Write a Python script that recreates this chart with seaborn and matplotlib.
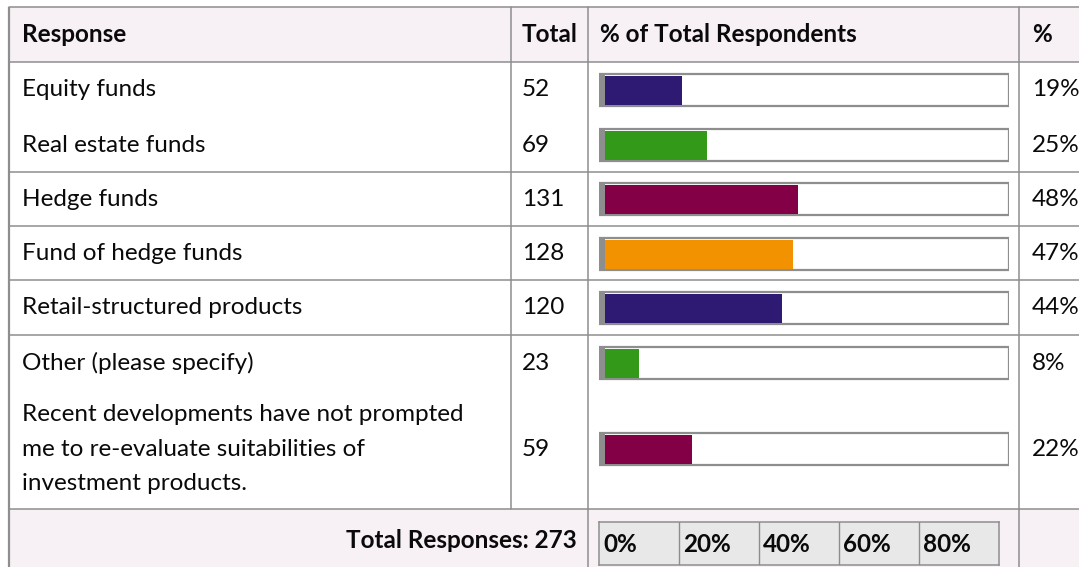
import matplotlib
matplotlib.use("Agg")
import matplotlib.pyplot as plt
import seaborn as sns
import pandas as pd
from matplotlib.patches import Rectangle

# ---------------- data ----------------
responses = [
    "Equity funds",
    "Real estate funds",
    "Hedge funds",
    "Fund of hedge funds",
    "Retail-structured products",
    "Other (please specify)",
    "Recent developments have not prompted\nme to re-evaluate suitabilities of\ninvestment products.",
]
totals = [52, 69, 131, 128, 120, 23, 59]
total_responses = 273
axis_ticks = [0, 20, 40, 60, 80]
header_labels = ["Response", "Total", "% of Total Respondents", "%"]
bar_colors = ["#2E1A73", "#339918", "#830047", "#F39200", "#2E1A73", "#339918", "#830047"]

pct = [t / total_responses * 100 for t in totals]

# ---------------- layout (pixels) ----------------
W, H = 1079, 567
row_centers = [90, 145, 199, 254, 308, 363, 449]
row_lines = [62, 172, 226, 280, 335, 509]
top_y, left_x = 7, 9
col_total, col_bar, col_pct = 511, 588, 1019
line_col = "#8E8E8E"
shade = "#F7F1F5"
txt = "#0A0A0A"

sns.set_style("white")
plt.rcParams["font.family"] = ["Lato", "DejaVu Sans"]
FS = 17.5

fig = plt.figure(figsize=(W / 100, H / 100), dpi=100)
bg = fig.add_axes([0, 0, 1, 1])
bg.set_xlim(0, W)
bg.set_ylim(H, 0)
bg.axis("off")

# header / footer shading
bg.add_patch(Rectangle((left_x, top_y), W - left_x, row_lines[0] - top_y, color=shade, lw=0, zorder=0))
bg.add_patch(Rectangle((left_x, row_lines[-1]), W - left_x, H - row_lines[-1], color=shade, lw=0, zorder=0))

# grid lines
lw = 1.1
bg.plot([left_x, left_x], [top_y, H], color=line_col, lw=1.6, solid_capstyle="butt")
bg.plot([left_x, W], [top_y, top_y], color=line_col, lw=lw)
for y in row_lines:
    bg.plot([left_x, W], [y, y], color=line_col, lw=lw)
bg.plot([col_total, col_total], [top_y, row_lines[-1]], color=line_col, lw=lw)
bg.plot([col_bar, col_bar], [top_y, H], color=line_col, lw=lw)
bg.plot([col_pct, col_pct], [top_y, H], color=line_col, lw=lw)

# header text
hy = 35
bg.text(22, hy, header_labels[0], fontsize=FS, fontweight="bold", va="center", ha="left", color=txt)
bg.text(522, hy, header_labels[1], fontsize=FS, fontweight="bold", va="center", ha="left", color=txt)
bg.text(600, hy, header_labels[2], fontsize=FS, fontweight="bold", va="center", ha="left", color=txt)
bg.text(1032, hy, header_labels[3], fontsize=FS, fontweight="bold", va="center", ha="left", color=txt)

# body text
for yc, lab, tot, p in zip(row_centers, responses, totals, pct):
    bg.text(22, yc, lab, fontsize=FS, va="center", ha="left", color=txt, linespacing=1.8)
    bg.text(522, yc, str(tot), fontsize=FS, va="center", ha="left", color=txt)
    bg.text(1032, yc, f"{round(p)}%", fontsize=FS, va="center", ha="left", color=txt)

bg.text(577, 541, f"Total Responses: {total_responses}", fontsize=FS, fontweight="bold",
        va="center", ha="right", color=txt)

# ---------------- bars ----------------
bx = fig.add_axes([599 / W, 0, 410 / W, 1])
bx.set_facecolor("none")
track_h = 32
bx.barh(row_centers, 102, left=-1.5, height=track_h, facecolor="white",
        edgecolor=line_col, linewidth=1.6, zorder=1)
bx.barh(row_centers, 1.5, left=-1.5, height=track_h, color=line_col, linewidth=0, zorder=2)

df = pd.DataFrame({"pct": pct, "pos": row_centers, "resp": [f"r{i}" for i in range(len(pct))]})
sns.barplot(data=df, x="pct", y="pos", hue="resp", palette=bar_colors, orient="h",
            native_scale=True, dodge=False, width=29 / 54, legend=False, ax=bx,
            saturation=1, linewidth=0, zorder=3)
for patch in bx.patches[-len(pct):]:
    patch.set_zorder(3)
bx.set_xlim(-1.5, 100.5)
bx.set_ylim(H, 0)
bx.axis("off")

# ---------------- footer axis ----------------
fx = fig.add_axes([599 / W, (H - 565) / H, 400 / W, 43 / H])
fx.set_xlim(0, 100)
fx.set_ylim(0, 1)
fx.set_facecolor("#E8E8E8")
for s in fx.spines.values():
    s.set_color(line_col)
    s.set_linewidth(1.1)
fx.set_xticks([])
fx.set_yticks([])
for t in axis_ticks:
    if t > 0:
        fx.axvline(t, color=line_col, lw=1.0)
    fx.text(t + 1.0, 0.47, f"{t}%", fontsize=FS, fontweight="bold", va="center", ha="left",
            color=txt)

fig.savefig("out.png", dpi=100)
